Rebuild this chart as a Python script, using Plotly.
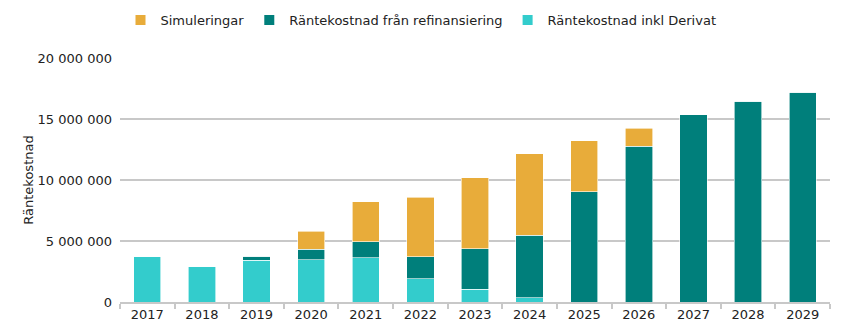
import plotly.graph_objects as go

years = ["2017", "2018", "2019", "2020", "2021", "2022", "2023",
         "2024", "2025", "2026", "2027", "2028", "2029"]

# Ränta inkl derivat (bottom segment)
derivat = [3770000, 2950000, 3440000, 3470000, 3610000, 1890000, 1060000,
           330000, 0, 0, 0, 0, 0]
# Ränta från refinansiering (middle segment)
refinans = [0, 0, 330000, 870000, 1310000, 1820000, 3310000,
            5140000, 9040000, 12760000, 15330000, 16450000, 17190000]
# Simuleringar (top segment)
simulering = [0, 0, 0, 1480000, 3280000, 4890000, 5820000,
              6670000, 4180000, 1500000, 0, 0, 0]

c_sim = "#E8AC3A"
c_ref = "#007F7B"
c_der = "#33CCCC"

fig = go.Figure()
fig.add_bar(x=years, y=derivat, name="Räntekostnad inkl Derivat",
            marker=dict(color=c_der, line=dict(color="white", width=0.6)))
fig.add_bar(x=years, y=refinans, name="Räntekostnad från refinansiering",
            marker=dict(color=c_ref, line=dict(color="white", width=0.6)))
fig.add_bar(x=years, y=simulering, name="Simuleringar",
            marker=dict(color=c_sim, line=dict(color="white", width=0.6)))

fig.update_layout(
    width=842, height=335,
    barmode="stack", bargap=0.5,
    plot_bgcolor="white", paper_bgcolor="white",
    margin=dict(l=120, r=12, t=58, b=33),
    font=dict(family="DejaVu Sans", size=13, color="#222222"),
    legend=dict(orientation="h", traceorder="reversed",
                xref="container", yref="container",
                x=0.5, xanchor="center", y=0.94, yanchor="middle",
                font=dict(family="DejaVu Sans", size=13),
                itemsizing="constant"),
    showlegend=True,
)
fig.update_yaxes(range=[0, 20000000], tickvals=[0, 5000000, 10000000, 15000000, 20000000],
                 ticktext=["0", "5 000 000", "10 000 000", "15 000 000", "20 000 000"],
                 showgrid=True, gridcolor="#C8C8C8", gridwidth=1.5,
                 zeroline=False, showline=False, ticks="", ticklen=0,
                 ticklabelstandoff=7,
                 title=dict(text="Räntekostnad", standoff=1, font=dict(size=13)))
fig.update_xaxes(showline=True, linecolor="#C8C8C8", linewidth=1.5,
                 ticks="outside", tickson="boundaries", ticklen=5,
                 tickcolor="#C8C8C8", tickwidth=1.5, showgrid=False)

fig.write_html("out.html")
